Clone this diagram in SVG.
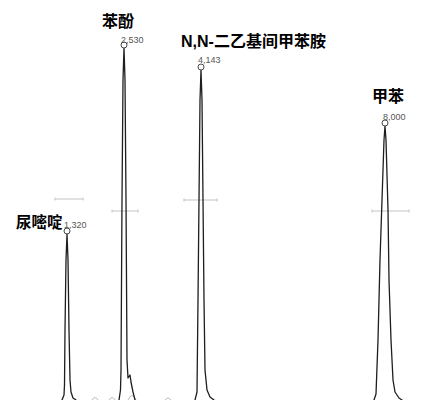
<svg xmlns="http://www.w3.org/2000/svg" width="431" height="400" viewBox="0 0 431 400">
<style>
.trace{fill:none;stroke:#1e1e1e;stroke-width:1.3;stroke-linejoin:round;stroke-linecap:round}
.apex{fill:#fff;stroke:#333;stroke-width:0.9}
.bar{fill:none;stroke:#c4c4c4;stroke-width:1}
.name{font-family:"Liberation Sans","Noto Sans CJK SC",sans-serif;font-weight:bold;font-size:16px;fill:#000}
.rt{font-family:"Liberation Sans",sans-serif;font-size:9px;fill:#555}
.bump{fill:none;stroke:#aaa;stroke-width:0.8}
</style>
<rect width="431" height="400" fill="#fff"/>
<g id="bars">
<path class="bar" d="M55,199H83M55,197.5V200.5M83,197.5V200.5"/>
<path class="bar" d="M112,211H138M112,209.5V212.5M138,209.5V212.5"/>
<path class="bar" d="M184,200H217M184,198.5V201.5M217,198.5V201.5"/>
<path class="bar" d="M372,211H409M372,209.5V212.5M409,209.5V212.5"/>
</g>
<g id="baseline">
<path class="bump" d="M92,400Q95,395 98,400M109,400Q112,395 115,400M128,400Q132,391 136,400M165,400Q168,396 171,400"/>
</g>
<g id="peak-uracil">
<path class="trace" d="M62,400L64,395L64.5,385L65,330L66,260L67,234L68,260L69,330L70,380L71,392L73,398L76,400"/>
<circle class="apex" cx="67" cy="231" r="3"/>
<text class="name" x="16" y="228" style="font-size:15.5px">尿嘧啶</text>
<text class="rt" x="64" y="228">1,320</text>
</g>
<g id="peak-phenol">
<path class="trace" d="M119,400L120.5,390L121,370L122,200L123,80L124,48L125,80L126,200L127,360L128,378L130,375L131,382L133,392L135,400"/>
<circle class="apex" cx="124" cy="45" r="3"/>
<text class="name" x="102" y="27">苯酚</text>
<text class="rt" x="121" y="43">2,530</text>
</g>
<g id="peak-deet">
<path class="trace" d="M195,400L197,392L198,300L199,200L200,100L201,70L202,100L203,200L204,300L205,370L207,390L210,397L214,400"/>
<circle class="apex" cx="201" cy="67" r="3"/>
<text class="name" x="181" y="47">N,N-二乙基间甲苯胺</text>
<text class="rt" x="198" y="63">4,143</text>
</g>
<g id="peak-toluene">
<path class="trace" d="M374,400L376,394L378,340L380,260L382,200L384,140L385,126L386,140L388,210L389,280L391,340L393,380L395,392L399,398L402,400"/>
<circle class="apex" cx="385" cy="123" r="3"/>
<text class="name" x="372" y="102">甲苯</text>
<text class="rt" x="383" y="120">8,000</text>
</g>
</svg>
